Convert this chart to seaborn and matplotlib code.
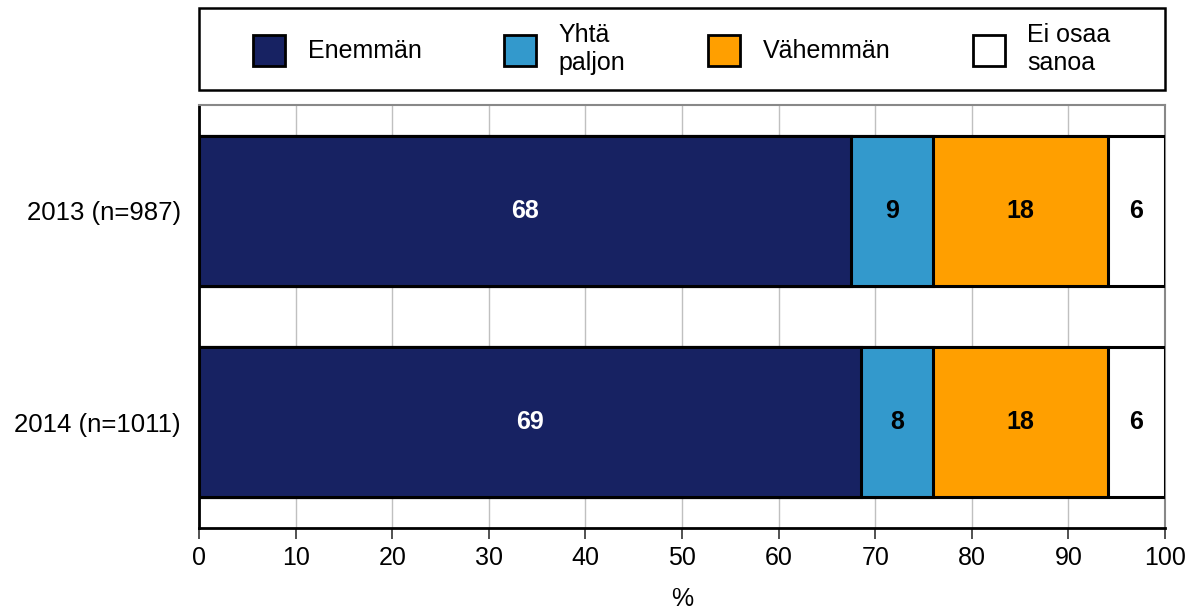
import pandas as pd
import numpy as np
import matplotlib
matplotlib.use("Agg")
import matplotlib.pyplot as plt
import seaborn as sns
from matplotlib.patches import Patch, Rectangle

# data
years = ['2013 (n=987)', '2014 (n=1011)']
categories = ['Enemmän', 'Yhtä\npaljon', 'Vähemmän', 'Ei osaa\nsanoa']
share_2013 = [67.5, 8.5, 18.1, 5.9]
share_2014 = [68.5, 7.5, 18.1, 5.9]
labels_2013 = ['68', '9', '18', '6']
labels_2014 = ['69', '8', '18', '6']
colors = ['#172262', '#3399CC', '#FF9F00', '#FFFFFF']
text_colors = ['white', 'black', 'black', 'black']

sns.set_theme(style='white')
plt.rcParams['font.family'] = ['Liberation Sans', 'DejaVu Sans']
for k in ['text.color', 'axes.labelcolor', 'xtick.color', 'ytick.color']:
    plt.rcParams[k] = 'black'

df = pd.DataFrame([share_2013, share_2014], index=years, columns=categories)
cum = df.cumsum(axis=1)

fig = plt.figure(figsize=(11.95, 6.09), dpi=100)
ax = fig.add_axes([199 / 1195, 1 - 528 / 609, 966 / 1195, 423 / 609])

# stacked bars: draw cumulative totals from widest to narrowest
for i in reversed(range(len(categories))):
    sns.barplot(x=cum.iloc[:, i].values, y=years, orient='h', color=colors[i],
                saturation=1, width=0.71, edgecolor='black', linewidth=2.2,
                ax=ax, zorder=3)

labels = [labels_2013, labels_2014]
for r in range(len(years)):
    left = 0
    for c in range(len(categories)):
        w = df.iloc[r, c]
        ax.text(left + w / 2, r, labels[r][c], ha='center', va='center',
                fontsize=18, fontweight='bold', color=text_colors[c], zorder=5)
        left += w

ax.set_xlim(0, 100)
ax.set_ylim(1.5, -0.5)
ax.set_xticks(range(0, 101, 10))
ax.xaxis.grid(True, color='#c0c0c0', linewidth=1)
ax.set_axisbelow(True)
ax.tick_params(axis='x', bottom=True, length=8, width=1.2, color='#333333',
               labelsize=18, pad=5)
ax.tick_params(axis='y', left=False, labelsize=18.5, pad=7)
ax.set_xlabel('%', fontsize=18, labelpad=12)
ax.set_ylabel('')
for s in ['left', 'bottom']:
    ax.spines[s].set_color('black')
    ax.spines[s].set_linewidth(2)
for s in ['top', 'right']:
    ax.spines[s].set_color('#888888')
    ax.spines[s].set_linewidth(1.5)

# legend box spanning the plot width
fig.patches.append(Rectangle((199 / 1195, 1 - 90 / 609), 966 / 1195, 82 / 609,
                             transform=fig.transFigure, facecolor='white',
                             edgecolor='black', linewidth=1.8))
handles = [Patch(facecolor=colors[i], edgecolor='black', linewidth=2) for i in range(len(categories))]
fig.legend(handles, categories, loc='center',
           bbox_to_anchor=(682 / 1195, 1 - 49 / 609),
           ncol=4, frameon=False, fontsize=18, handlelength=1.28,
           handleheight=1.5, handletextpad=0.9, columnspacing=3.3,
           labelspacing=0.3, borderpad=0, borderaxespad=0)

fig.savefig('out.png', dpi=100)
plt.close(fig)
